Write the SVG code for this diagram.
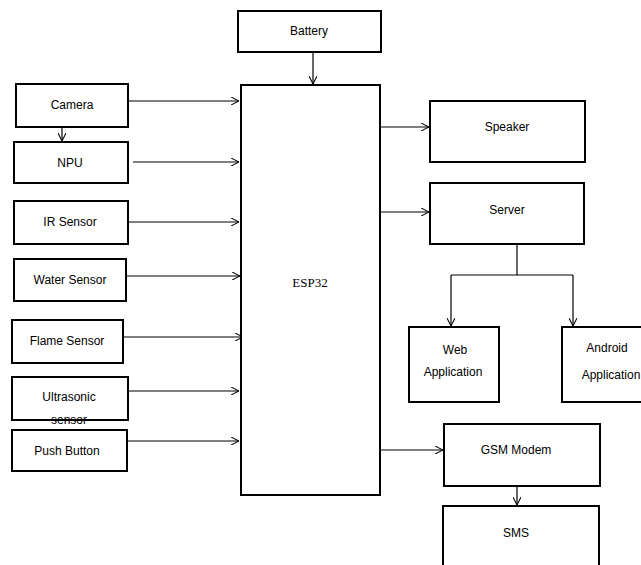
<svg xmlns="http://www.w3.org/2000/svg" width="641" height="565" viewBox="0 0 641 565">
<style>
.box{fill:#fff;stroke:#000;stroke-width:2}
.lbl{font-family:"Liberation Sans",Arial,sans-serif;font-size:12px;fill:#000;text-anchor:middle}
.ser{font-family:"Liberation Serif","Times New Roman",serif;font-size:13px;fill:#000;text-anchor:middle}
.c{fill:none;stroke:#000;stroke-width:1.2}
</style>
<defs>
<marker id="ah" viewBox="0 0 10 10" refX="10" refY="5" markerWidth="8" markerHeight="8" markerUnits="userSpaceOnUse" orient="auto">
<path d="M0,0 L10,5 L0,10" fill="none" stroke="#000" stroke-width="1.3"/>
</marker>
</defs>
<rect width="641" height="565" fill="#fff"/>
<g id="connectors">
<line class="c" x1="313" y1="52" x2="313" y2="84" marker-end="url(#ah)"/>
<line class="c" x1="128" y1="101" x2="239" y2="101" marker-end="url(#ah)"/>
<line class="c" x1="62" y1="127" x2="62" y2="141" marker-end="url(#ah)"/>
<line class="c" x1="133" y1="162" x2="239" y2="162" marker-end="url(#ah)"/>
<line class="c" x1="128" y1="222" x2="239" y2="222" marker-end="url(#ah)"/>
<line class="c" x1="126" y1="276" x2="240" y2="276" marker-end="url(#ah)"/>
<line class="c" x1="123" y1="337" x2="243" y2="337" marker-end="url(#ah)"/>
<line class="c" x1="128" y1="391" x2="239" y2="391" marker-end="url(#ah)"/>
<line class="c" x1="127" y1="441" x2="239" y2="441" marker-end="url(#ah)"/>
<line class="c" x1="381" y1="127" x2="429" y2="127" marker-end="url(#ah)"/>
<line class="c" x1="381" y1="212" x2="429" y2="212" marker-end="url(#ah)"/>
<polyline class="c" points="517,244 517,275"/>
<polyline class="c" points="451,275 573,275"/>
<line class="c" x1="451" y1="275" x2="451" y2="326" marker-end="url(#ah)"/>
<line class="c" x1="573" y1="275" x2="573" y2="326" marker-end="url(#ah)"/>
<line class="c" x1="381" y1="450" x2="443" y2="450" marker-end="url(#ah)"/>
<line class="c" x1="517" y1="486" x2="517" y2="505" marker-end="url(#ah)"/>
</g>
<g id="battery"><rect class="box" x="238" y="11" width="143" height="41"/><text class="lbl" x="309" y="35">Battery</text></g>
<g id="esp32"><rect class="box" x="241" y="85" width="139" height="410"/><text class="ser" x="310" y="287">ESP32</text></g>
<g id="camera"><rect class="box" x="16" y="84" width="112" height="43"/><text class="lbl" x="72" y="109">Camera</text></g>
<g id="npu"><rect class="box" x="14" y="142" width="114" height="41"/><text class="lbl" x="70" y="167">NPU</text></g>
<g id="ir"><rect class="box" x="14" y="201" width="114" height="43"/><text class="lbl" x="70" y="226">IR Sensor</text></g>
<g id="water"><rect class="box" x="14" y="259" width="112" height="42"/><text class="lbl" x="70" y="284">Water Sensor</text></g>
<g id="flame"><rect class="box" x="12" y="320" width="111" height="43"/><text class="lbl" x="67" y="345">Flame Sensor</text></g>
<g id="ultrasonic"><rect class="box" x="12" y="377" width="116" height="43"/><text class="lbl" x="69" y="401">Ultrasonic</text><text class="lbl" x="69" y="424">sensor</text></g>
<g id="pushbutton"><rect class="box" x="12" y="430" width="115" height="41"/><text class="lbl" x="67" y="455">Push Button</text></g>
<g id="speaker"><rect class="box" x="430" y="101" width="155" height="61"/><text class="lbl" x="507" y="131">Speaker</text></g>
<g id="server"><rect class="box" x="430" y="183" width="154" height="61"/><text class="lbl" x="507" y="214">Server</text></g>
<g id="web"><rect class="box" x="409" y="327" width="90" height="75"/><text class="lbl" x="455" y="354">Web</text><text class="lbl" x="453" y="376">Application</text></g>
<g id="android"><rect class="box" x="562" y="327" width="84" height="75"/><text class="lbl" x="607" y="352">Android</text><text class="lbl" x="611" y="379">Application</text></g>
<g id="gsm"><rect class="box" x="444" y="424" width="156" height="62"/><text class="lbl" x="516" y="454">GSM Modem</text></g>
<g id="sms"><rect class="box" x="443" y="506" width="156" height="65"/><text class="lbl" x="516" y="537">SMS</text></g>
</svg>
